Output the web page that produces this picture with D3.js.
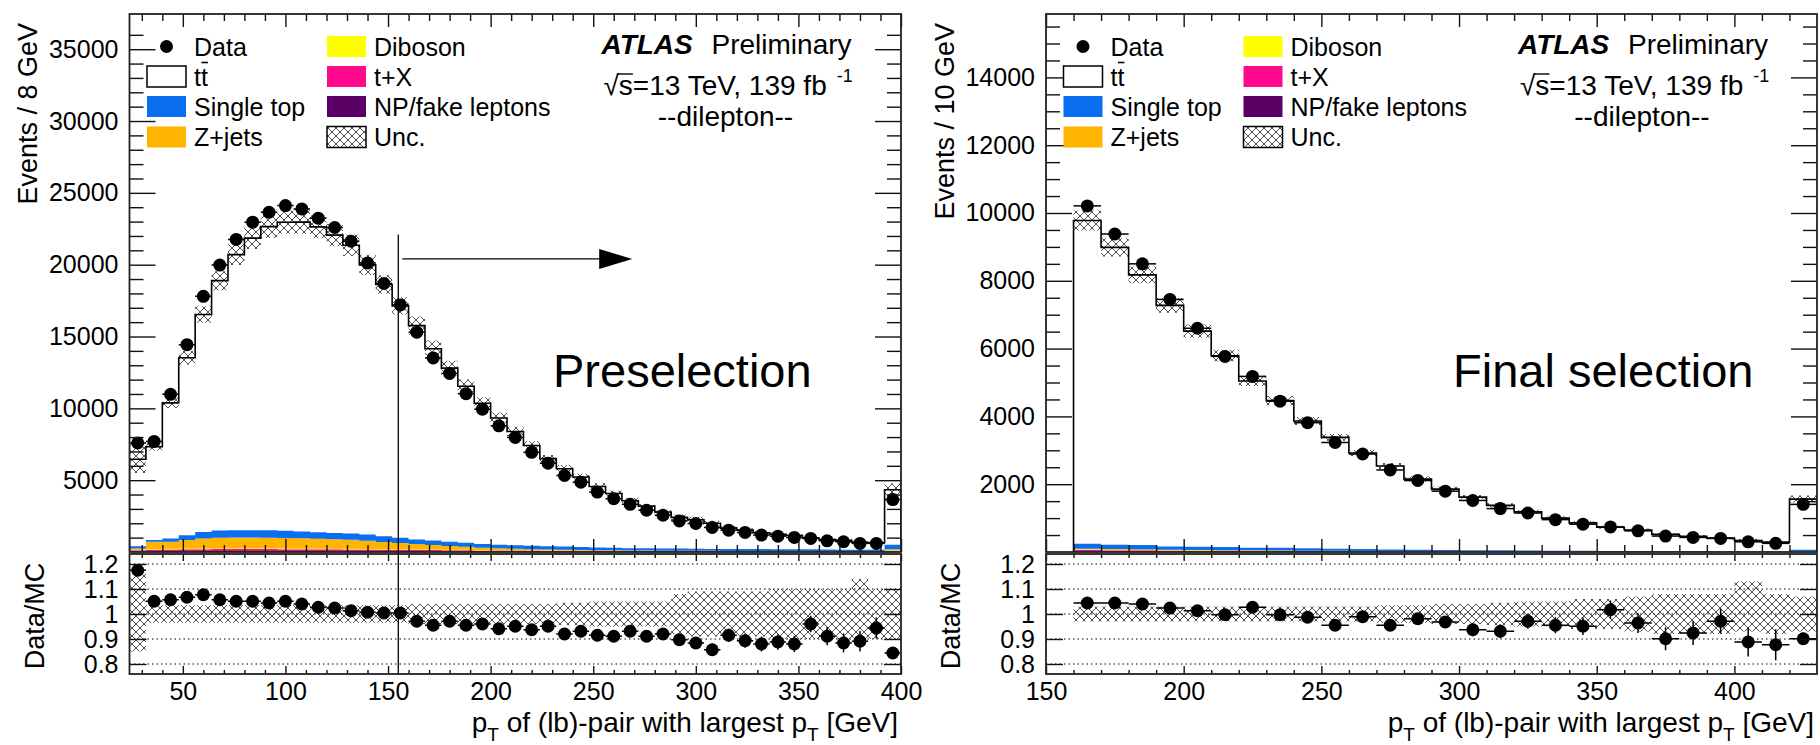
<!DOCTYPE html>
<html>
<head>
<meta charset="utf-8">
<script src="https://cdn.jsdelivr.net/npm/d3@7/dist/d3.min.js"></script>
<style>
  body { margin: 0; background: #fff; }
  text { font-family: "Liberation Sans", Arial, Helvetica, sans-serif; fill: #000; }
</style>
</head>
<body>
<svg id="chart" width="1820" height="745"></svg>
<script>
// ---------------- values ----------------

// Preselection: 8 GeV bins, 24 -> 400 GeV (last bin is the overflow)
const preEdges = d3.range(24, 401, 8);
const preData = [7590, 7700, 10975, 14430, 17800, 19970, 21760, 22960, 23650, 24115, 23880, 23240,
  22590, 21630, 20125, 18695, 17200, 15300, 13510, 12430, 11020, 9940, 8780, 7975, 6940, 6180,
  5325, 4860, 4170, 3710, 3320, 2905, 2560, 2165, 1985, 1710, 1520, 1360, 1175, 1105, 1015, 945,
  780, 715, 600, 600, 3650];
const preMC = [6460, 7330, 10380, 13520, 16530, 18890, 20700, 21850, 22650, 22950, 22960, 22630,
  22060, 21350, 19990, 18620, 17130, 15760, 14150, 12800, 11540, 10350, 9330, 8390, 7410, 6500,
  5790, 5220, 4560, 4070, 3570, 3190, 2780, 2410, 2250, 2000, 1660, 1520, 1340, 1240, 1150, 980,
  860, 810, 670, 640, 4330];
const preRatio = [1.175, 1.051, 1.057, 1.067, 1.077, 1.057, 1.051, 1.051, 1.044, 1.051, 1.04, 1.027,
  1.024, 1.013, 1.007, 1.004, 1.004, 0.971, 0.955, 0.971, 0.955, 0.96, 0.941, 0.951, 0.937, 0.951,
  0.92, 0.931, 0.915, 0.911, 0.931, 0.911, 0.92, 0.897, 0.884, 0.857, 0.915, 0.893, 0.88, 0.888,
  0.88, 0.96, 0.911, 0.884, 0.891, 0.944, 0.844];
const preRatioErr = [0.012, 0.012, 0.01, 0.008, 0.008, 0.007, 0.007, 0.007, 0.007, 0.007, 0.007, 0.007,
  0.007, 0.007, 0.007, 0.008, 0.008, 0.008, 0.009, 0.009, 0.01, 0.01, 0.011, 0.011, 0.012, 0.013,
  0.014, 0.015, 0.016, 0.017, 0.018, 0.019, 0.02, 0.022, 0.023, 0.025, 0.026, 0.028, 0.03, 0.031,
  0.032, 0.033, 0.036, 0.038, 0.041, 0.042, 0.017];
const preUncUp = [0.16, 0.035, 0.035, 0.035, 0.035, 0.035, 0.035, 0.035, 0.035, 0.035, 0.035, 0.035,
  0.035, 0.035, 0.035, 0.035, 0.035, 0.04, 0.04, 0.04, 0.04, 0.04, 0.04, 0.04, 0.04, 0.04,
  0.045, 0.045, 0.05, 0.05, 0.05, 0.05, 0.05, 0.08, 0.09, 0.09, 0.09, 0.09, 0.09, 0.1,
  0.1, 0.1, 0.1, 0.1, 0.14, 0.1, 0.1];
const preUncDn = [0.15, 0.035, 0.035, 0.035, 0.035, 0.035, 0.035, 0.035, 0.035, 0.035, 0.035, 0.035,
  0.035, 0.035, 0.035, 0.035, 0.035, 0.04, 0.04, 0.04, 0.04, 0.04, 0.04, 0.04, 0.04, 0.04,
  0.045, 0.045, 0.05, 0.05, 0.05, 0.05, 0.05, 0.08, 0.09, 0.09, 0.09, 0.09, 0.09, 0.1,
  0.1, 0.1, 0.1, 0.1, 0.1, 0.1, 0.1];
const preSingleTop = [150, 120, 230, 340, 460, 500, 510, 510, 520, 500, 470, 460, 450, 440, 430, 400,
  370, 310, 320, 300, 280, 260, 240, 240, 240, 220, 220, 210, 185, 175, 155, 155, 150, 145, 140,
  135, 130, 130, 130, 125, 120, 115, 110, 105, 100, 100, 300];
const preZjets = [100, 510, 490, 590, 690, 740, 750, 750, 740, 730, 700, 680, 650, 630, 580, 500,
  440, 380, 310, 260, 210, 160, 130, 105, 80, 65, 50, 35, 25, 20, 15, 12, 10, 8, 7, 6, 5, 5, 4,
  4, 3, 3, 3, 2, 2, 2, 80];
const preDiboson = [30, 40, 45, 50, 50, 52, 52, 52, 52, 50, 50, 48, 46, 44, 42, 40, 38, 36, 34, 32,
  30, 28, 26, 25, 24, 23, 22, 21, 20, 19, 18, 18, 17, 17, 16, 15, 15, 14, 14, 14, 14, 13, 13, 12,
  12, 12, 25];
const preTX = [80, 110, 120, 130, 135, 140, 140, 140, 140, 135, 135, 130, 125, 120, 115, 110, 105,
  100, 95, 90, 85, 80, 75, 72, 70, 67, 65, 62, 60, 57, 55, 55, 52, 52, 50, 48, 46, 46, 42, 42, 42,
  40, 38, 36, 36, 36, 70];
const preFake = [40, 50, 55, 60, 65, 68, 68, 68, 68, 65, 65, 62, 59, 56, 53, 50, 47, 44, 41, 38, 35,
  32, 29, 28, 26, 25, 23, 22, 20, 19, 17, 17, 16, 16, 14, 13, 12, 12, 12, 12, 12, 12, 11, 10, 10,
  10, 25];

// Final selection: 10 GeV bins, 160 -> 430 GeV (last bin is the overflow)
const finEdges = d3.range(160, 431, 10);
const finData = [10210, 9380, 8500, 7450, 6600, 5770, 5180, 4450, 3815, 3230, 2890, 2420, 2110,
  1795, 1520, 1280, 1150, 955, 820, 740, 625, 470, 430, 400, 300, 255, 1405];
const finMC = [9780, 8985, 8175, 7275, 6515, 5790, 5045, 4465, 3865, 3380, 2920, 2535, 2150, 1855,
  1620, 1375, 1185, 1000, 860, 730, 650, 520, 465, 410, 340, 290, 1560];
const finRatio = [1.044, 1.044, 1.04, 1.024, 1.013, 0.997, 1.027, 0.997, 0.987, 0.955, 0.989, 0.955,
  0.981, 0.968, 0.937, 0.931, 0.971, 0.955, 0.951, 1.017, 0.964, 0.901, 0.924, 0.971, 0.888, 0.877,
  0.901];
const finRatioErr = [0.01, 0.011, 0.011, 0.012, 0.013, 0.013, 0.014, 0.015, 0.016, 0.018, 0.019, 0.02,
  0.022, 0.024, 0.026, 0.028, 0.03, 0.032, 0.035, 0.037, 0.04, 0.046, 0.048, 0.05, 0.058, 0.062, 0.025];
const finUncUp = [0.03, 0.03, 0.03, 0.03, 0.03, 0.03, 0.03, 0.03, 0.03, 0.03, 0.03, 0.035, 0.035,
  0.04, 0.04, 0.045, 0.05, 0.05, 0.06, 0.06, 0.07, 0.08, 0.08, 0.08, 0.13, 0.08, 0.07];
const finUncDn = [0.03, 0.03, 0.03, 0.03, 0.03, 0.03, 0.03, 0.03, 0.03, 0.03, 0.03, 0.035, 0.035,
  0.04, 0.04, 0.045, 0.05, 0.05, 0.06, 0.06, 0.07, 0.08, 0.08, 0.08, 0.07, 0.08, 0.07];
const finSingleTop = [150, 130, 130, 90, 90, 90, 80, 80, 70, 60, 55, 50, 45, 40, 35, 30, 28, 25, 22,
  20, 18, 16, 14, 12, 10, 9, 40];
const finZjets = [20, 18, 16, 14, 12, 10, 9, 8, 7, 6, 5, 5, 4, 4, 3, 3, 3, 2, 2, 2, 2, 1, 1, 1, 1, 1, 5];
const finDiboson = [15, 14, 12, 11, 10, 9, 8, 7, 6, 5, 5, 4, 4, 3, 3, 3, 2, 2, 2, 2, 1, 1, 1, 1, 1, 1, 5];
const finTX = [40, 37, 34, 31, 28, 25, 22, 20, 18, 16, 14, 12, 11, 10, 9, 8, 7, 6, 5, 5, 4, 4, 3, 3,
  3, 2, 12];
const finFake = [20, 18, 16, 14, 12, 11, 10, 9, 8, 7, 6, 6, 5, 5, 4, 4, 3, 3, 3, 2, 2, 2, 2, 1, 1, 1, 6];

// tick labels
const preXTicks = [50, 100, 150, 200, 250, 300, 350, 400];
const finXTicks = [150, 200, 250, 300, 350, 400];
const preYTicks = [5000, 10000, 15000, 20000, 25000, 30000, 35000];
const finYTicks = [2000, 4000, 6000, 8000, 10000, 12000, 14000];
const ratioTicks = [0.8, 0.9, 1, 1.1, 1.2];

// legend entries (two columns)
const legendCol1 = [["Data", "data"], ["tt", "tt"], ["Single top", "singleTop"], ["Z+jets", "zjets"]];
const legendCol2 = [["Diboson", "diboson"], ["t+X", "tX"], ["NP/fake leptons", "fake"], ["Unc.", "unc"]];

// preselection cut marker
const cutValue = 155, cutTop = 22100, arrowEnd = 269, arrowY = 20400;

// ---------------- drawing ----------------
const colours = { fake: "#5a0064", tX: "#ff0a8c", diboson: "#ffff00", zjets: "#ffb400", singleTop: "#0a6ef0" };
const stackKeys = ["fake", "tX", "diboson", "zjets", "singleTop"];

const mainTop = 14, mainBottom = 552, ratioTop = 554, ratioBottom = 674;

const svg = d3.select("#chart");
svg.append("rect").attr("width", 1820).attr("height", 745).attr("fill", "#fff");

const defs = svg.append("defs");
defs.append("pattern")
    .attr("id", "hatch")
    .attr("width", 8).attr("height", 8)
    .attr("patternUnits", "userSpaceOnUse")
  .append("path")
    .attr("d", "M0,0L8,8M8,0L0,8")
    .attr("stroke", "#222")
    .attr("stroke-width", 0.8);

const panels = [
  {
    left: 129.5, right: 901, xDomain: [24, 400], yMax: 37450, edges: preEdges,
    data: preData, mc: preMC, ratio: preRatio, ratioErr: preRatioErr, up: preUncUp, dn: preUncDn,
    bkg: { singleTop: preSingleTop, zjets: preZjets, diboson: preDiboson, tX: preTX, fake: preFake },
    xTicks: preXTicks, xMinor: d3.range(30, 400, 10), yTicks: preYTicks, yMinor: d3.range(1000, 37000, 1000),
    yTitle: "Events / 8 GeV", label: "Preselection", labelX: 553, cut: true
  },
  {
    left: 1046, right: 1817, xDomain: [150, 430], yMax: 15870, edges: finEdges,
    data: finData, mc: finMC, ratio: finRatio, ratioErr: finRatioErr, up: finUncUp, dn: finUncDn,
    bkg: { singleTop: finSingleTop, zjets: finZjets, diboson: finDiboson, tX: finTX, fake: finFake },
    xTicks: finXTicks, xMinor: d3.range(160, 430, 10), yTicks: finYTicks, yMinor: d3.range(500, 15870, 500),
    yTitle: "Events / 10 GeV", label: "Final selection", labelX: 1453, cut: false
  }
];

function styleAxis(g) {
  g.select(".domain").remove();
  g.selectAll("line").attr("stroke", "#111").attr("stroke-width", 1.4);
  g.selectAll("text").attr("font-size", 25).attr("fill", "#000")
    .attr("font-family", '"Liberation Sans", Arial, sans-serif');
}

function drawPanel(p) {
  const x = d3.scaleLinear().domain(p.xDomain).range([p.left, p.right]);
  const y = d3.scaleLinear().domain([0, p.yMax]).range([mainBottom, mainTop]);
  const yr = d3.scaleLinear().domain([0.76, 1.24]).range([ratioBottom, ratioTop]);
  const n = p.data.length;

  const rows = p.data.map((d, i) => {
    const r = { lo: p.edges[i], hi: p.edges[i + 1], data: d, mc: p.mc[i], ratio: p.ratio[i],
      rerr: p.ratioErr[i], up: p.up[i], dn: p.dn[i] };
    stackKeys.forEach(k => { r[k] = p.bkg[k][i]; });
    return r;
  });
  // repeat the last bin at the upper edge so the step curves close the last bin
  const ext = rows.concat([Object.assign({}, rows[n - 1], { lo: p.edges[n] })]);

  const clipId = "clip" + p.left;
  defs.append("clipPath").attr("id", clipId + "m")
    .append("rect").attr("x", p.left).attr("y", mainTop).attr("width", p.right - p.left).attr("height", mainBottom - mainTop);
  defs.append("clipPath").attr("id", clipId + "r")
    .append("rect").attr("x", p.left).attr("y", ratioTop).attr("width", p.right - p.left).attr("height", ratioBottom - ratioTop);

  // ---- main pad ----
  const gm = svg.append("g").attr("clip-path", `url(#${clipId}m)`);

  const series = d3.stack().keys(stackKeys)(ext);
  const stackArea = d3.area().curve(d3.curveStepAfter)
    .x(d => x(d.data.lo)).y0(d => y(d[0])).y1(d => y(d[1]));
  gm.selectAll(".bkg").data(series).join("path")
    .attr("class", "bkg")
    .attr("fill", s => colours[s.key])
    .attr("d", stackArea);

  const band = d3.area().curve(d3.curveStepAfter)
    .x(d => x(d.lo)).y0(d => y(d.mc * (1 - d.dn))).y1(d => y(d.mc * (1 + d.up)));
  gm.append("path").datum(ext).attr("fill", "url(#hatch)").attr("d", band);

  const mcLine = d3.line().curve(d3.curveStepAfter).x(d => x(d.lo)).y(d => y(d.mc));
  const mcPts = [{ lo: p.edges[0], mc: 0 }].concat(ext, [{ lo: p.edges[n], mc: 0 }]);
  gm.append("path").datum(mcPts).attr("fill", "none").attr("stroke", "#000").attr("stroke-width", 1.6).attr("d", mcLine);

  gm.selectAll(".xerr").data(rows).join("line")
    .attr("x1", d => x(d.lo)).attr("x2", d => x(d.hi))
    .attr("y1", d => y(d.data)).attr("y2", d => y(d.data))
    .attr("stroke", "#000").attr("stroke-width", 1.5);
  gm.selectAll(".pt").data(rows).join("circle")
    .attr("cx", d => x((d.lo + d.hi) / 2)).attr("cy", d => y(d.data))
    .attr("r", 6.5).attr("fill", "#000");

  // ---- ratio pad ----
  const gr = svg.append("g").attr("clip-path", `url(#${clipId}r)`);
  gr.selectAll(".grid").data(ratioTicks).join("line")
    .attr("x1", p.left).attr("x2", p.right)
    .attr("y1", d => yr(d)).attr("y2", d => yr(d))
    .attr("stroke", "#000").attr("stroke-width", 1).attr("stroke-dasharray", "1.5,3");

  const rband = d3.area().curve(d3.curveStepAfter)
    .x(d => x(d.lo)).y0(d => yr(1 - d.dn)).y1(d => yr(1 + d.up));
  gr.append("path").datum(ext).attr("fill", "url(#hatch)").attr("d", rband);

  gr.selectAll(".rx").data(rows).join("line")
    .attr("x1", d => x(d.lo)).attr("x2", d => x(d.hi))
    .attr("y1", d => yr(d.ratio)).attr("y2", d => yr(d.ratio))
    .attr("stroke", "#000").attr("stroke-width", 1.5);
  gr.selectAll(".ry").data(rows).join("line")
    .attr("x1", d => x((d.lo + d.hi) / 2)).attr("x2", d => x((d.lo + d.hi) / 2))
    .attr("y1", d => yr(d.ratio - d.rerr)).attr("y2", d => yr(d.ratio + d.rerr))
    .attr("stroke", "#000").attr("stroke-width", 1.5);
  gr.selectAll(".rp").data(rows).join("circle")
    .attr("cx", d => x((d.lo + d.hi) / 2)).attr("cy", d => yr(d.ratio))
    .attr("r", 6.5).attr("fill", "#000");

  // ---- axes (ticks point inwards, ROOT style) ----
  const ga = svg.append("g");
  ga.append("g").attr("transform", `translate(${p.left},0)`)
    .call(d3.axisLeft(y).tickValues(p.yTicks).tickSize(-26).tickPadding(11).tickFormat(d3.format("d"))).call(styleAxis);
  ga.append("g").attr("transform", `translate(${p.left},0)`)
    .call(d3.axisLeft(y).tickValues(p.yMinor.filter(v => !p.yTicks.includes(v))).tickSize(-14).tickFormat("")).call(styleAxis);
  ga.append("g").attr("transform", `translate(${p.right},0)`)
    .call(d3.axisRight(y).tickValues(p.yTicks).tickSize(-26).tickFormat("")).call(styleAxis);
  ga.append("g").attr("transform", `translate(${p.right},0)`)
    .call(d3.axisRight(y).tickValues(p.yMinor.filter(v => !p.yTicks.includes(v))).tickSize(-14).tickFormat("")).call(styleAxis);

  const xMinor = p.xMinor.filter(v => !p.xTicks.includes(v));
  [[d3.axisTop, mainTop, 13, 7], [d3.axisBottom, mainBottom, 13, 7], [d3.axisTop, ratioTop, 7, 4]].forEach(([ax, yy, big, small]) => {
    ga.append("g").attr("transform", `translate(0,${yy})`)
      .call(ax(x).tickValues(p.xTicks).tickSize(-big).tickFormat("")).call(styleAxis);
    ga.append("g").attr("transform", `translate(0,${yy})`)
      .call(ax(x).tickValues(xMinor).tickSize(-small).tickFormat("")).call(styleAxis);
  });
  ga.append("g").attr("transform", `translate(0,${ratioBottom})`)
    .call(d3.axisBottom(x).tickValues(p.xTicks).tickSize(-8).tickPadding(8)).call(styleAxis);
  ga.append("g").attr("transform", `translate(0,${ratioBottom})`)
    .call(d3.axisBottom(x).tickValues(xMinor).tickSize(-4).tickFormat("")).call(styleAxis);

  ga.append("g").attr("transform", `translate(${p.left},0)`)
    .call(d3.axisLeft(yr).tickValues(ratioTicks).tickSize(-17).tickPadding(11).tickFormat(d => String(+d.toFixed(1)))).call(styleAxis);
  ga.append("g").attr("transform", `translate(${p.right},0)`)
    .call(d3.axisRight(yr).tickValues(ratioTicks).tickSize(-17).tickFormat("")).call(styleAxis);

  // frames
  ga.append("rect").attr("x", p.left).attr("y", mainTop).attr("width", p.right - p.left).attr("height", mainBottom - mainTop)
    .attr("fill", "none").attr("stroke", "#222").attr("stroke-width", 1.8);
  ga.append("rect").attr("x", p.left).attr("y", ratioTop).attr("width", p.right - p.left).attr("height", ratioBottom - ratioTop)
    .attr("fill", "none").attr("stroke", "#222").attr("stroke-width", 1.8);

  // axis titles
  ga.append("text")
    .attr("transform", `translate(${p.left - 92.5},23) rotate(-90)`)
    .attr("text-anchor", "end").attr("font-size", 27).text(p.yTitle);
  ga.append("text")
    .attr("transform", `translate(${p.left - 86},616) rotate(-90)`)
    .attr("text-anchor", "middle").attr("font-size", 27).text("Data/MC");
  const xt = ga.append("text").attr("x", p.right - 3).attr("y", 732)
    .attr("text-anchor", "end").attr("font-size", 28);
  xt.append("tspan").text("p");
  xt.append("tspan").attr("font-size", 19).attr("dy", 9).text("T");
  xt.append("tspan").attr("dy", -9).text(" of (lb)-pair with largest p");
  xt.append("tspan").attr("font-size", 19).attr("dy", 9).text("T");
  xt.append("tspan").attr("dy", -9).text(" [GeV]");

  // legend
  const lx = p.left;
  const rowY = [46.5, 76.5, 106.5, 137];
  function legendEntry(col, i, entry) {
    const bx = lx + (col === 0 ? 17.5 : 197.5);
    const tx = lx + (col === 0 ? 64.5 : 244.5);
    const cy = rowY[i];
    const [lab, key] = entry;
    if (key === "data") {
      ga.append("circle").attr("cx", bx + 19.5).attr("cy", cy).attr("r", 6.5).attr("fill", "#000");
    } else if (key === "tt") {
      ga.append("rect").attr("x", bx).attr("y", cy - 10.5).attr("width", 39).attr("height", 21)
        .attr("fill", "#fff").attr("stroke", "#000").attr("stroke-width", 1.5);
    } else if (key === "unc") {
      ga.append("rect").attr("x", bx).attr("y", cy - 10.5).attr("width", 39).attr("height", 21)
        .attr("fill", "url(#hatch)").attr("stroke", "#000").attr("stroke-width", 1.5);
    } else {
      ga.append("rect").attr("x", bx).attr("y", cy - 10.5).attr("width", 39).attr("height", 21)
        .attr("fill", colours[key]);
    }
    const t = ga.append("text").attr("x", tx).attr("y", cy + 9).attr("font-size", 25).text(lab);
    if (key === "tt") {
      const node = t.node();
      const w1 = node.getSubStringLength(0, 1), w2 = node.getSubStringLength(1, 1);
      ga.append("line").attr("x1", tx + w1 + 0.5).attr("x2", tx + w1 + w2)
        .attr("y1", cy - 14).attr("y2", cy - 14).attr("stroke", "#000").attr("stroke-width", 1.6);
    }
  }
  legendCol1.forEach((e, i) => legendEntry(0, i, e));
  legendCol2.forEach((e, i) => legendEntry(1, i, e));

  // ATLAS label
  const ax0 = p.left + 472;
  ga.append("text").attr("x", ax0).attr("y", 54).attr("font-size", 28)
    .attr("font-weight", "bold").attr("font-style", "italic").text("ATLAS");
  ga.append("text").attr("x", ax0 + 110).attr("y", 54).attr("font-size", 28).text("Preliminary");
  const sq = ga.append("text").attr("x", ax0 + 2).attr("y", 95).attr("font-size", 28).text("\u221As=13 TeV, 139 fb");
  const sn = sq.node();
  const s0 = sn.getSubStringLength(0, 1), s1 = sn.getSubStringLength(1, 1);
  ga.append("line").attr("x1", ax0 + 2 + s0 - 1).attr("x2", ax0 + 2 + s0 + s1)
    .attr("y1", 74).attr("y2", 74).attr("stroke", "#000").attr("stroke-width", 1.4);
  ga.append("text").attr("x", ax0 + 2 + sn.getComputedTextLength() + 10).attr("y", 82).attr("font-size", 18).text("-1");
  ga.append("text").attr("x", ax0 + 124).attr("y", 126).attr("text-anchor", "middle").attr("font-size", 28).text("--dilepton--");

  ga.append("text").attr("x", p.labelX).attr("y", 387).attr("font-size", 47).text(p.label);

  // cut line and arrow (preselection only)
  if (p.cut) {
    ga.append("line").attr("x1", x(cutValue)).attr("x2", x(cutValue))
      .attr("y1", y(cutTop)).attr("y2", ratioBottom).attr("stroke", "#000").attr("stroke-width", 1.3);
    const ay = y(arrowY), tip = x(arrowEnd);
    ga.append("line").attr("x1", x(cutValue) + 4).attr("x2", tip - 30).attr("y1", ay).attr("y2", ay)
      .attr("stroke", "#000").attr("stroke-width", 1.3);
    ga.append("path").attr("d", `M${tip},${ay}L${tip - 33},${ay - 10}L${tip - 33},${ay + 10}Z`).attr("fill", "#000");
  }
}

panels.forEach(drawPanel);
</script>
</body>
</html>
